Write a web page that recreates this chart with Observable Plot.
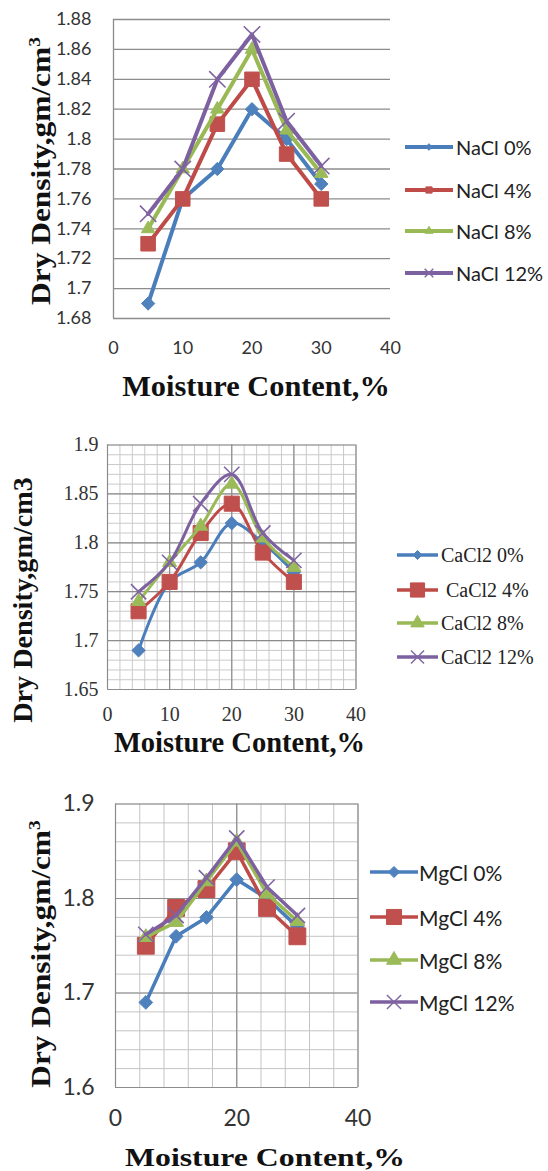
<!DOCTYPE html>
<html><head><meta charset="utf-8">
<script src="https://cdn.jsdelivr.net/npm/d3@7"></script>
<script src="https://cdn.jsdelivr.net/npm/@observablehq/plot@0.6"></script>
<style>
body{margin:0;background:#fff;}
#root{position:relative;width:548px;height:1171px;overflow:hidden;background:#fff;}
.panel{position:absolute;left:0;}
.big{position:absolute;font-family:"Liberation Serif","Times New Roman",serif;font-weight:bold;white-space:nowrap;line-height:1;color:#111;}
.leg{position:absolute;display:flex;align-items:center;white-space:pre;line-height:1;}
.leg svg{display:block;}
</style></head>
<body><div id="root"></div>
<script>
// ---------- data ----------
const moisture = [5, 10, 15, 20, 25, 30];
const levels = ["0%", "4%", "8%", "12%"];

const nacl0  = [1.69, 1.76, 1.78, 1.82, 1.80, 1.77];
const nacl4  = [1.73, 1.76, 1.81, 1.84, 1.79, 1.76];
const nacl8  = [1.74, 1.78, 1.82, 1.86, 1.806, 1.777];
const nacl12 = [1.75, 1.78, 1.84, 1.87, 1.812, 1.782];

const cacl0  = [1.69, 1.76, 1.78, 1.82, 1.80, 1.77];
const cacl4  = [1.73, 1.76, 1.81, 1.84, 1.79, 1.76];
const cacl8  = [1.74, 1.78, 1.817, 1.86, 1.805, 1.775];
const cacl12 = [1.75, 1.78, 1.84, 1.87, 1.81, 1.782];

const mgcl0  = [1.69, 1.76, 1.78, 1.82, 1.80, 1.77];
const mgcl4  = [1.75, 1.79, 1.81, 1.85, 1.79, 1.76];
const mgcl8  = [1.759, 1.775, 1.818, 1.86, 1.805, 1.776];
const mgcl12 = [1.762, 1.782, 1.822, 1.864, 1.812, 1.782];

const naclLabels = ["NaCl 0%", "NaCl 4%", "NaCl 8%", "NaCl 12%"];
const caclLabels = ["CaCl2 0%", " CaCl2 4%", "CaCl2 8%", "CaCl2 12%"];
const mgclLabels = ["MgCl 0%", "MgCl 4%", "MgCl 8%", "MgCl 12%"];

const xTicks1 = [0, 10, 20, 30, 40];
const yTicks1 = [1.68, 1.7, 1.72, 1.74, 1.76, 1.78, 1.8, 1.82, 1.84, 1.86, 1.88];
const xTicks2 = [0, 10, 20, 30, 40];
const yTicks2 = [1.65, 1.7, 1.75, 1.8, 1.85, 1.9];
const xTicks3 = [0, 20, 40];
const yTicks3 = [1.6, 1.7, 1.8, 1.9];

const xLabel = "Moisture Content,%";
const yLabelSup = "Dry Density,gm/cm<sup style='font-size:62%;vertical-align:0.55em;line-height:0'>3</sup>";
const yLabelPlain = "Dry Density,gm/cm3";

// ---------- styles ----------
const lineColors = ["#4A7EBB", "#BE4B48", "#98B954", "#7D60A0"];
const markColors = ["#4F81BD", "#C0504D", "#9BBB59", "#8064A2"];
const plotSymbols = ["diamond2", "square", "triangle", "times"];
const d3Symbols = [d3.symbolDiamond2, d3.symbolSquare, d3.symbolTriangle, d3.symbolTimes];

const root = document.getElementById("root");

function rows(values, level) {
  return moisture.map((m, i) => ({m, v: values[i], level}));
}

function seriesMarks(series, opt) {
  const marks = [];
  series.forEach((vals, k) => {
    const data = rows(vals, levels[k]);
    marks.push(Plot.line(data, {x: "m", y: "v", stroke: lineColors[k], strokeWidth: opt.lw, curve: opt.curve}));
    if (plotSymbols[k] === "times") {
      marks.push(Plot.dot(data, {x: "m", y: "v", symbol: "times", r: opt.r[k], stroke: markColors[k], strokeWidth: 1.6, fill: "none"}));
    } else {
      marks.push(Plot.dot(data, {x: "m", y: "v", symbol: plotSymbols[k], r: opt.r[k], fill: markColors[k], stroke: markColors[k], strokeWidth: 1}));
    }
  });
  return marks;
}

function legend(labels, cfg) {
  labels.forEach((lab, k) => {
    const div = document.createElement("div");
    div.className = "leg";
    div.style.left = cfg.x + "px";
    div.style.top = (cfg.ys[k] - 12) + "px";
    div.style.height = "24px";
    div.style.fontFamily = cfg.font;
    div.style.fontSize = cfg.fs + "px";
    div.style.color = "#222";
    const svg = d3.create("svg").attr("width", cfg.len).attr("height", 24);
    svg.append("line").attr("x1", 0).attr("x2", cfg.len).attr("y1", 12).attr("y2", 12)
      .attr("stroke", lineColors[k]).attr("stroke-width", cfg.lw);
    const sym = d3.symbol(d3Symbols[k], Math.PI * cfg.r[k] * cfg.r[k])();
    const p = svg.append("path").attr("d", sym).attr("transform", `translate(${cfg.len / 2},12)`);
    if (k === 3) p.attr("fill", "none").attr("stroke", markColors[k]).attr("stroke-width", 1.4);
    else p.attr("fill", markColors[k]).attr("stroke", markColors[k]);
    div.appendChild(svg.node());
    const span = document.createElement("span");
    span.textContent = lab;
    span.style.marginLeft = cfg.gap + "px";
    div.appendChild(span);
    root.appendChild(div);
  });
}

// big bold label, centred at (cx, cy), stretched along its reading direction to span `len` px
function bigLabel(html, cx, cy, fs, rotate, len) {
  const d = document.createElement("div");
  d.className = "big";
  d.style.left = cx + "px";
  d.style.top = cy + "px";
  d.style.fontSize = fs + "px";
  d.innerHTML = html;
  root.appendChild(d);
  const w = d.offsetWidth;
  const s = len ? len / w : 1;
  d.style.transform = `translate(-50%,-50%)${rotate ? " rotate(-90deg)" : ""} scaleX(${s})`;
}

function place(svg, top) {
  const wrap = document.createElement("div");
  wrap.className = "panel";
  wrap.style.top = top + "px";
  wrap.appendChild(svg);
  root.appendChild(wrap);
}

// ---------- panel 1 : NaCl ----------
{
  const W = 400, H = 360;
  const p = Plot.plot({
    width: W, height: H,
    marginLeft: 113, marginRight: W - 390, marginTop: 19, marginBottom: H - 318,
    x: {domain: [xTicks1[0], xTicks1[xTicks1.length - 1]]},
    y: {domain: [yTicks1[0], yTicks1[yTicks1.length - 1]]},
    style: {background: "transparent", fontFamily: "Lato, 'Open Sans', sans-serif", fontSize: "18px", color: "#333", overflow: "visible"},
    marks: [
      Plot.ruleY(yTicks1, {stroke: "#8c8c8c", strokeWidth: 1.3}),
      Plot.ruleX([xTicks1[0]], {stroke: "#8c8c8c", strokeWidth: 1.3}),
      Plot.axisX({ticks: xTicks1, tickSize: 0, tickPadding: 23, label: null, tickFormat: d => String(d)}),
      Plot.axisY({ticks: yTicks1, tickSize: 0, tickPadding: 22, label: null, tickFormat: d => String(d)}),
      ...seriesMarks([nacl0, nacl4, nacl8, nacl12], {lw: 4, curve: "linear", r: [6, 8.2, 5, 7.5]})
    ]
  });
  place(p, 0);
  legend(naclLabels, {x: 405, ys: [147, 190, 231, 273], len: 48, lw: 4, r: [3, 3.5, 3, 4], gap: 3, font: "Lato, 'Open Sans', sans-serif", fs: 20});
  bigLabel(yLabelSup, 41, 171, 28, true, 268);
  bigLabel(xLabel, 256, 386, 29, false, 268);
}

// ---------- panel 2 : CaCl2 ----------
{
  const W = 380, H = 330, T = 400;
  const xMinor = d3.range(xTicks2[0], xTicks2[xTicks2.length - 1] + 0.1, 2);
  const yMinor = d3.range(165, 191).map(d => d / 100);
  const p = Plot.plot({
    width: W, height: H,
    marginLeft: 107, marginRight: W - 355.5, marginTop: 444.5 - T, marginBottom: T + H - 689,
    x: {domain: [xTicks2[0], xTicks2[xTicks2.length - 1]]},
    y: {domain: [yTicks2[0], yTicks2[yTicks2.length - 1]]},
    style: {background: "transparent", fontFamily: "'Liberation Serif', 'Times New Roman', serif", fontSize: "20px", color: "#333", overflow: "visible"},
    marks: [
      Plot.ruleX(xMinor, {stroke: "#c9c9c9", strokeWidth: 1}),
      Plot.ruleY(yMinor, {stroke: "#c9c9c9", strokeWidth: 1}),
      Plot.ruleX(xTicks2, {stroke: "#8c8c8c", strokeWidth: 1.2}),
      Plot.ruleY(yTicks2, {stroke: "#8c8c8c", strokeWidth: 1.2}),
      Plot.axisX({ticks: xTicks2, tickSize: 0, tickPadding: 17, label: null, tickFormat: d => String(d)}),
      Plot.axisY({ticks: yTicks2, tickSize: 0, tickPadding: 9, label: null, tickFormat: d => String(d)}),
      ...seriesMarks([cacl0, cacl4, cacl8, cacl12], {lw: 3, curve: "catmull-rom", r: [6, 8.5, 5.2, 7]})
    ]
  });
  place(p, T);
  legend(caclLabels, {x: 397, ys: [555, 590, 623, 657], len: 41, lw: 3.5, r: [4, 8, 5, 6], gap: 3, font: "'Liberation Serif', 'Times New Roman', serif", fs: 20});
  bigLabel(yLabelPlain, 23, 600, 27, true, 245);
  bigLabel(xLabel, 239.5, 742.5, 28.5, false, 251);
}

// ---------- panel 3 : MgCl ----------
{
  const W = 380, H = 400, T = 760;
  const xMinor = d3.range(xTicks3[0], xTicks3[xTicks3.length - 1] + 0.1, 4);
  const yMinor = d3.range(80, 96).map(d => d / 50);
  const p = Plot.plot({
    width: W, height: H,
    marginLeft: 115, marginRight: W - 357.5, marginTop: 803.5 - T, marginBottom: T + H - 1087,
    x: {domain: [xTicks3[0], xTicks3[xTicks3.length - 1]]},
    y: {domain: [yTicks3[0], yTicks3[yTicks3.length - 1]]},
    style: {background: "transparent", fontFamily: "Lato, 'Open Sans', sans-serif", fontSize: "23px", color: "#333", overflow: "visible"},
    marks: [
      Plot.ruleX(xMinor, {stroke: "#c4c4c4", strokeWidth: 1}),
      Plot.ruleY(yMinor, {stroke: "#c4c4c4", strokeWidth: 1}),
      Plot.ruleX(xTicks3, {stroke: "#8c8c8c", strokeWidth: 1.2}),
      Plot.ruleY(yTicks3, {stroke: "#8c8c8c", strokeWidth: 1.2}),
      Plot.axisX({ticks: xTicks3, tickSize: 0, tickPadding: 22, label: null, tickFormat: d => String(d)}),
      Plot.axisY({ticks: yTicks3, tickSize: 0, tickPadding: 21, label: null, tickFormat: d => String(d)}),
      ...seriesMarks([mgcl0, mgcl4, mgcl8, mgcl12], {lw: 3.5, curve: "linear", r: [6.2, 9.5, 5.5, 7]})
    ]
  });
  place(p, T);
  legend(mgclLabels, {x: 370, ys: [872, 917, 960, 1002], len: 48, lw: 3.5, r: [5, 8.5, 5.5, 6.5], gap: 1, font: "Lato, 'Open Sans', sans-serif", fs: 21});
  bigLabel(yLabelSup, 41, 953.5, 27, true, 267);
  bigLabel(xLabel, 265, 1158, 24.5, false, 280);
}
</script>
</body></html>
